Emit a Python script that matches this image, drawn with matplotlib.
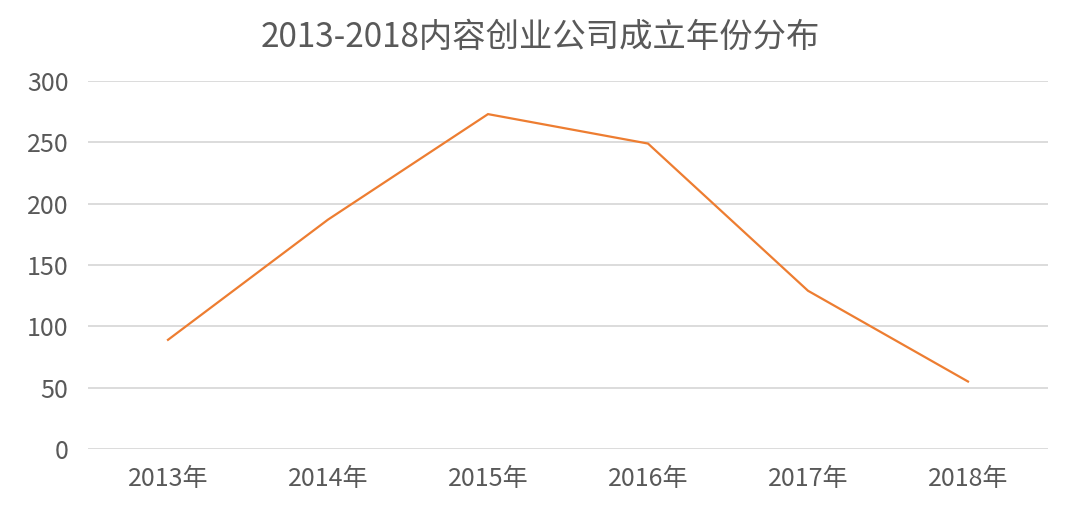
import matplotlib.pyplot as plt
import numpy as np

plt.rcParams['font.family'] = ['Noto Sans CJK SC', 'DejaVu Sans']

years = ['2013年', '2014年', '2015年', '2016年', '2017年', '2018年']
counts = [89, 187, 273, 249, 129, 55]
y_ticks = [0, 50, 100, 150, 200, 250, 300]

text_color = '#595959'
grid_color = '#d9d9d9'
line_color = '#ED7D31'

fig = plt.figure(figsize=(10.8, 5.18), dpi=100)
ax = fig.add_axes([88 / 1080, 1 - 449 / 518, 960 / 1080, 368 / 518])

x = np.arange(len(years))
ax.plot(x, counts, color=line_color, linewidth=1.6, solid_joinstyle='miter', zorder=3)

ax.set_xlim(-0.5, len(years) - 0.5)
ax.set_ylim(0, 300)
ax.set_yticks(y_ticks)
ax.set_xticks(x)
ax.set_xticklabels(years)

ax.grid(axis='y', color=grid_color, linewidth=1.3)
ax.set_axisbelow(True)
for s in ax.spines.values():
    s.set_visible(False)
ax.tick_params(axis='both', length=0, labelsize=18, colors=text_color)
ax.tick_params(axis='y', pad=14)
ax.tick_params(axis='x', pad=12)

fig.text(0.5, 1 - 37 / 518, '2013-2018内容创业公司成立年份分布',
         ha='center', va='center', fontsize=24, color=text_color)

fig.savefig('out.png', dpi=100)
